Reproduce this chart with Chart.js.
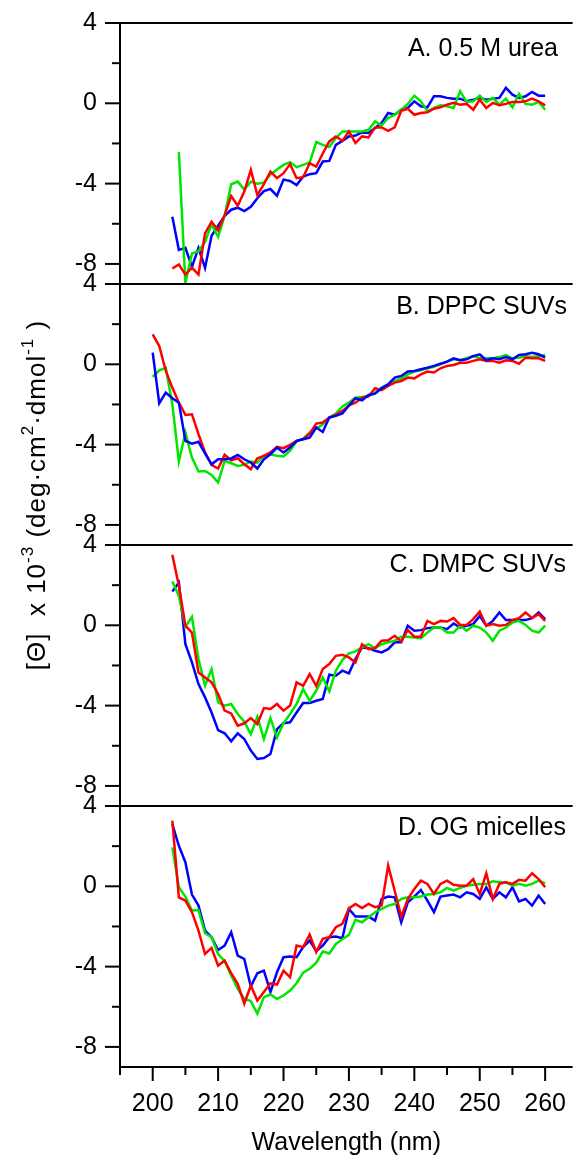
<!DOCTYPE html>
<html>
<head>
<meta charset="utf-8">
<script src="https://cdn.jsdelivr.net/npm/chart.js@4.4.1/dist/chart.umd.min.js"></script>
<style>
  html, body { margin: 0; padding: 0; background: #fff; }
  canvas { display: block; }
</style>
</head>
<body>
<canvas id="cdChart" width="574" height="1156"></canvas>
<script>
// wavelength in nm, one point per nm
const wavelength = [
  200, 201, 202, 203, 204, 205, 206, 207, 208, 209,
  210, 211, 212, 213, 214, 215, 216, 217, 218, 219,
  220, 221, 222, 223, 224, 225, 226, 227, 228, 229,
  230, 231, 232, 233, 234, 235, 236, 237, 238, 239,
  240, 241, 242, 243, 244, 245, 246, 247, 248, 249,
  250, 251, 252, 253, 254, 255, 256, 257, 258, 259,
  260
];

const panelTitles = ['A. 0.5 M urea', 'B. DPPC SUVs', 'C. DMPC SUVs', 'D. OG micelles'];
const yTicks = [-8, -6, -4, -2, 0, 2, 4];
const xTicks = [195, 200, 205, 210, 215, 220, 225, 230, 235, 240, 245, 250, 255, 260];

// A. 0.5 M urea
const ureaBlue = [
  null, null, null, -5.65, -7.3, -7.2, -8.15, -7.2, -8.2, -6.6,
  -6.1, -5.6, -5.3, -5.2, -5.37, -5.15, -4.73, -4.37, -4.27, -4.6,
  -3.8, -3.87, -4.07, -3.65, -3.53, -3.48, -2.9, -2.87, -2.07, -1.87,
  -1.65, -1.6, -1.45, -1.48, -1.23, -0.98, -0.48, -0.57, -0.32, -0.23,
  0.1, -0.15, -0.2, 0.35, 0.35, 0.27, 0.23, 0.23, 0.1, 0.18,
  0.27, 0.18, 0.23, 0.27, 0.77, 0.43, 0.27, 0.35, 0.57, 0.38,
  0.38
];
const ureaGreen = [
  null, null, null, null, -2.43, -8.95, -7.48, -7.37, -6.9, -6.03,
  -6.65, -5.6, -4.03, -3.9, -4.3, -3.9, -4.0, -3.95, -3.55, -3.3,
  -3.07, -2.93, -3.18, -3.07, -2.95, -1.93, -2.07, -2.18, -1.73, -1.4,
  -1.4, -1.4, -1.4, -1.32, -0.9, -1.1, -0.73, -0.57, -0.32, -0.03,
  0.38, 0.1, -0.4, -0.23, -0.1, -0.15, -0.23, 0.6, 0.07, 0.1,
  0.38, 0.07, 0.27, -0.07, 0.23, -0.2, 0.47, -0.03, -0.07, 0.07,
  -0.32
];
const ureaRed = [
  null, null, null, -8.23, -8.03, -8.53, -8.18, -8.53, -6.48, -5.9,
  -6.32, -5.57, -4.62, -5.1, -4.4, -3.32, -4.57, -4.03, -3.4, -3.73,
  -3.48, -3.03, -3.73, -3.68, -2.98, -3.15, -2.5, -1.9, -1.65, -1.87,
  -1.4, -1.98, -1.65, -1.7, -1.2, -1.2, -1.37, -1.2, -0.37, -0.27,
  -0.57, -0.48, -0.45, -0.27, -0.2, -0.07, 0.02, -0.07, -0.03, -0.32,
  0.18, -0.23, 0.02, -0.1, -0.03, 0.07, 0.07, 0.1, 0.23, 0.1,
  -0.1
];

// B. DPPC SUVs
const dppcBlue = [
  0.58, -1.94, -1.41, -1.69, -1.91, -3.81, -3.95, -3.86, -4.44, -4.98,
  -4.73, -4.73, -4.69, -4.51, -4.73, -4.89, -5.19, -4.73, -4.48, -4.15,
  -4.39, -4.15, -3.81, -3.73, -3.65, -3.15, -3.37, -2.65, -2.57, -2.45,
  -2.05, -1.69, -1.79, -1.53, -1.46, -1.19, -1.0, -0.66, -0.58, -0.36,
  -0.33, -0.25, -0.17, -0.08, 0.03, 0.13, 0.3, 0.2, 0.25, 0.41,
  0.5, 0.2, 0.3, 0.25, 0.36, 0.25, 0.46, 0.5, 0.58, 0.5,
  0.33
];
const dppcGreen = [
  -0.63, -0.3, -0.17, -1.99, -4.84, -3.4, -4.64, -5.34, -5.31, -5.51,
  -5.89, -4.81, -4.93, -5.06, -5.01, -4.84, -4.9, -4.56, -4.48, -4.56,
  -4.59, -4.3, -3.85, -3.7, -3.4, -3.2, -3.0, -2.65, -2.45, -2.1,
  -1.9, -1.66, -1.63, -1.58, -1.41, -1.16, -1.0, -0.83, -0.7, -0.5,
  -0.36, -0.3, -0.2, -0.13, 0, 0.13, 0.25, 0.2, 0.3, 0.41,
  0.3, 0.3, 0.3, 0.36, 0.46, 0.3, 0.33, 0.41, 0.36, 0.41,
  0.46
];
const dppcRed = [
  1.49, 0.91, -0.33, -1.16, -1.91, -2.52, -2.49, -3.48, -4.39, -5.01,
  -5.19, -4.51, -4.78, -4.68, -4.98, -5.22, -4.68, -4.56, -4.39, -4.11,
  -4.18, -4.01, -3.81, -3.73, -3.45, -2.95, -2.9, -2.65, -2.52, -2.32,
  -2.05, -1.91, -1.66, -1.6, -1.19, -1.29, -1.08, -0.91, -0.83, -0.66,
  -0.7, -0.5, -0.36, -0.41, -0.2, -0.08, -0.03, 0.08, 0.08, 0.17,
  0.25, 0.17, 0.17, 0.08, 0.2, 0.17, 0.03, 0.33, 0.3, 0.3,
  0.17
];

// C. DMPC SUVs
const dmpcBlue = [
  null, null, null, 1.68, 2.13, -0.94, -1.85, -2.93, -3.59, -4.34,
  -5.22, -5.38, -5.78, -5.38, -5.66, -6.24, -6.66, -6.61, -6.41, -5.17,
  -4.88, -4.83, -4.34, -3.87, -3.87, -3.76, -3.67, -2.46, -2.51, -2.26,
  -2.39, -1.68, -1.1, -1.14, -1.27, -1.35, -1.19, -0.85, -0.85, -0.02,
  -0.27, -0.24, -0.14, -0.11, -0.11, -0.19, 0.09, -0.11, -0.02, 0.06,
  0.47, -0.02, 0.22, 0.64, 0.26, 0.26, 0.26, 0.26, 0.36, 0.64,
  0.31
];
const dmpcGreen = [
  null, null, null, 2.18, 1.47, -0.07, 0.42, -1.68, -3.01, -2.18,
  -3.84, -4.0, -3.92, -4.42, -4.8, -5.42, -4.55, -5.66, -4.62, -5.58,
  -4.88, -4.42, -3.92, -3.18, -3.76, -3.26, -2.6, -3.29, -2.26, -1.73,
  -1.4, -1.3, -1.1, -0.94, -1.14, -0.94, -0.85, -0.77, -0.57, -0.57,
  -0.61, -0.64, -0.36, -0.11, -0.11, -0.36, -0.36, -0.02, -0.27, -0.02,
  -0.11, -0.36, -0.77, -0.27, -0.11, 0.14, 0.22, 0.02, -0.27, -0.36,
  -0.02
];
const dmpcRed = [
  null, null, null, 3.51, 1.97, -0.02, -0.36, -2.35, -2.6, -2.84,
  -3.42, -4.25, -4.39, -5.0, -4.88, -4.62, -4.92, -4.12, -4.17, -3.92,
  -4.25, -4.0, -2.84, -3.01, -2.43, -3.01, -2.18, -1.93, -1.52, -1.47,
  -1.6, -1.85, -0.94, -1.19, -1.14, -0.77, -0.74, -0.52, -0.8, -0.24,
  -0.57, -0.57, 0.22, 0.06, 0.22, 0.19, 0.36, 0.02, 0.02, 0.31,
  0.69, -0.02, 0.06, -0.02, 0.02, 0.26, 0.36, 0.64, 0.36, 0.56,
  0.22
];

// D. OG micelles
const ogBlue = [
  null, null, null, 3.1, 2.02, 1.19, -0.41, -0.96, -2.21, -2.54,
  -3.17, -2.95, -2.29, -3.45, -3.62, -4.99, -4.33, -4.2, -5.27, -4.28,
  -3.53, -3.5, -3.53, -3.03, -2.7, -3.23, -2.95, -2.54, -2.5, -2.59,
  -1.13, -1.51, -1.51, -1.51, -1.71, -0.63, -0.51, -0.55, -1.79, -0.8,
  -0.51, -0.18, -0.71, -1.29, -0.51, -0.46, -0.41, -0.55, -0.3, -0.38,
  -0.63, -0.05, -0.63, -0.3, -0.55, -0.05, -0.75, -0.63, -0.96, -0.46,
  -0.88
];
const ogGreen = [
  null, null, null, 1.94, -0.05, -0.51, -1.21, -1.18, -2.34, -2.54,
  -3.37, -3.73, -4.44, -5.11, -5.61, -5.72, -6.35, -5.52, -5.39, -5.61,
  -5.44, -5.19, -4.83, -4.3, -4.11, -3.8, -3.25, -3.35, -2.87, -2.64,
  -2.42, -1.67, -1.79, -1.54, -1.29, -1.13, -0.96, -0.88, -0.63, -0.55,
  -0.55, -0.51, -0.41, -0.38, -0.3, -0.08, -0.22, -0.08, 0.03, 0.08,
  0.12, 0.12, 0.25, 0.2, 0.2, 0.03, 0.12, 0.03, 0.12, 0.28,
  0.15
];
const ogRed = [
  null, null, null, 3.27, -0.55, -0.71, -1.29, -2.21, -3.37, -3.07,
  -3.95, -3.7, -4.33, -4.86, -5.85, -4.94, -5.69, -5.27, -4.83, -4.89,
  -4.2, -4.53, -2.95, -3.03, -2.4, -3.28, -2.62, -2.54, -2.04, -1.87,
  -1.1, -0.88, -1.08, -0.88, -1.04, -0.96, 1.03, -0.22, -1.51, -0.63,
  -0.13, 0.28, 0.12, -0.38, 0.12, 0.28, 0.08, 0.03, 0.03, 0.36,
  -0.38, 0.65, -0.63, 0.12, 0.2, 0.12, 0.32, 0.28, 0.65, 0.36,
  -0.05
];

const FONT = "'Liberation Sans', Arial, Helvetica, sans-serif";
const BLUE = 'rgb(0, 0, 255)';
const GREEN = 'rgb(0, 230, 0)';
const RED = 'rgb(255, 0, 0)';
const panelIds = ['yA', 'yB', 'yC', 'yD'];

function series(values, color, axis) {
  return {
    data: wavelength.map((w, i) => ({ x: w, y: values[i] })),
    yAxisID: axis,
    borderColor: color,
    borderWidth: 2.5,
    pointRadius: 0,
    tension: 0,
    spanGaps: false,
  };
}

// first dataset in the list is drawn on top
const datasets = [
  series(ureaRed, RED, 'yA'), series(ureaGreen, GREEN, 'yA'), series(ureaBlue, BLUE, 'yA'),
  series(dppcBlue, BLUE, 'yB'), series(dppcRed, RED, 'yB'), series(dppcGreen, GREEN, 'yB'),
  series(dmpcRed, RED, 'yC'), series(dmpcGreen, GREEN, 'yC'), series(dmpcBlue, BLUE, 'yC'),
  series(ogRed, RED, 'yD'), series(ogGreen, GREEN, 'yD'), series(ogBlue, BLUE, 'yD'),
];

function panelAxis(weight) {
  return {
    type: 'linear',
    position: 'left',
    stack: 'panels',
    stackWeight: 1,
    weight: weight,
    min: -9,
    max: 4,
    afterBuildTicks: s => { s.ticks = yTicks.map(v => ({ value: v })); },
    afterFit: s => { s.width = 120; },
    grid: { display: false, drawTicks: true, tickLength: 15 },
    border: { display: false },
    ticks: {
      autoSkip: false,
      padding: 8,
      color: '#000',
      font: { family: FONT, size: 25 },
      callback: v => (v % 4 === 0 ? String(v) : ''),
    },
  };
}

// panel label placement (right edge, offset from panel top)
const titleRight = [558, 567, 566, 566];
const titleDy = [26, 23, 20, 22];

const framePlugin = {
  id: 'frame',
  afterDraw(chart) {
    const { ctx, chartArea: a, scales } = chart;
    const line = (x1, y1, x2, y2) => {
      ctx.beginPath(); ctx.moveTo(x1, y1); ctx.lineTo(x2, y2); ctx.stroke();
    };
    ctx.save();
    ctx.strokeStyle = '#000';
    ctx.lineWidth = 2;
    line(a.left, a.top, a.left, a.bottom + 1);
    line(a.left - 1, a.bottom, a.right, a.bottom);

    ctx.fillStyle = '#000';
    ctx.font = '25px ' + FONT;
    ctx.textAlign = 'right';
    ctx.textBaseline = 'middle';
    panelIds.forEach((id, i) => {
      const s = scales[id];
      line(a.left - 15, s.top, a.right, s.top);
      s.ticks.forEach(t => {
        const y = s.getPixelForValue(t.value);
        const len = t.value % 4 === 0 ? 15 : 8;
        line(a.left - len, y, a.left, y);
      });
      ctx.fillText(panelTitles[i], titleRight[i], s.top + titleDy[i]);
    });

    const xs = scales.x;
    xs.ticks.forEach(t => {
      const x = xs.getPixelForValue(t.value);
      const len = t.value % 10 === 0 ? 14 : 8;
      line(x, a.bottom, x, a.bottom + len);
    });

    // y axis title with superscripts
    const parts = [
      ['[\u0398]  x 10', false], ['-3', true], [' (deg\u00b7cm', false], ['2', true],
      ['\u00b7dmol', false], ['-1', true], [' )', false],
    ];
    const mainFont = '26px ' + FONT;
    const supFont = '17px ' + FONT;
    if ('letterSpacing' in ctx) ctx.letterSpacing = '1px';
    let total = 0;
    parts.forEach(([txt, sup]) => {
      ctx.font = sup ? supFont : mainFont;
      total += ctx.measureText(txt).width;
    });
    ctx.translate(45, 495);
    ctx.rotate(-Math.PI / 2);
    ctx.textAlign = 'left';
    ctx.textBaseline = 'alphabetic';
    let pos = -total / 2;
    parts.forEach(([txt, sup]) => {
      ctx.font = sup ? supFont : mainFont;
      ctx.fillText(txt, pos, sup ? -12 : 0);
      pos += ctx.measureText(txt).width;
    });
    ctx.restore();
  },
};

new Chart(document.getElementById('cdChart'), {
  type: 'line',
  data: { datasets },
  options: {
    responsive: false,
    animation: false,
    devicePixelRatio: 1,
    layout: { padding: { top: 22, left: 0, right: 0, bottom: 0 } },
    plugins: { legend: { display: false }, tooltip: { enabled: false } },
    scales: {
      x: {
        type: 'linear',
        min: 195,
        max: 264.2,
        afterBuildTicks: s => { s.ticks = xTicks.map(v => ({ value: v })); },
        afterFit: s => { s.height = 89; },
        grid: { display: false, drawTicks: true, tickLength: 14 },
        border: { display: false },
        ticks: {
          autoSkip: false,
          maxRotation: 0,
          padding: 8,
          color: '#000',
          font: { family: FONT, size: 25 },
          callback: v => (v % 10 === 0 ? String(v) : ''),
        },
        title: {
          display: true,
          text: 'Wavelength (nm)',
          color: '#000',
          padding: { top: 0, bottom: 0 },
          font: { family: FONT, size: 25, lineHeight: 1 },
        },
      },
      yA: panelAxis(4),
      yB: panelAxis(3),
      yC: panelAxis(2),
      yD: panelAxis(1),
    },
  },
  plugins: [framePlugin],
});
</script>
</body>
</html>
